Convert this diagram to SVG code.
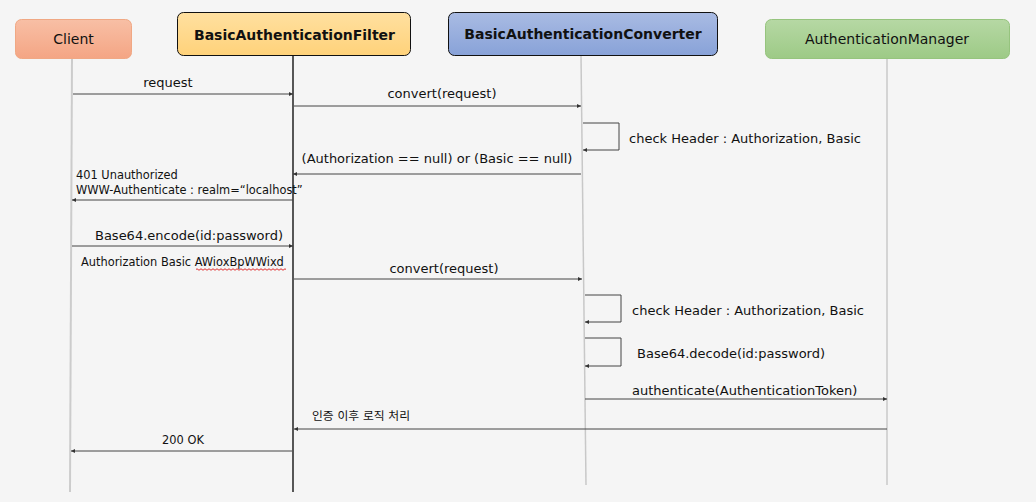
<svg xmlns="http://www.w3.org/2000/svg" width="1036" height="502" viewBox="0 0 1036 502">
<defs>
<linearGradient id="gClient" x1="0" y1="0" x2="0" y2="1"><stop offset="0" stop-color="#f8bfa5"/><stop offset="1" stop-color="#f4a584"/></linearGradient>
<linearGradient id="gFilter" x1="0" y1="0" x2="0" y2="1"><stop offset="0" stop-color="#ffe0a0"/><stop offset="1" stop-color="#ffd27a"/></linearGradient>
<linearGradient id="gConv" x1="0" y1="0" x2="0" y2="1"><stop offset="0" stop-color="#a9bbe3"/><stop offset="1" stop-color="#88a2d8"/></linearGradient>
<linearGradient id="gMgr" x1="0" y1="0" x2="0" y2="1"><stop offset="0" stop-color="#b6d8a4"/><stop offset="1" stop-color="#9dca86"/></linearGradient>
<marker id="ah" viewBox="0 0 6 6" refX="6" refY="3" markerWidth="4" markerHeight="4" orient="auto" markerUnits="userSpaceOnUse"><path d="M0,0 L6,3 L0,6 z" fill="#333"/></marker>
</defs>
<style>
.lbl{font-family:"DejaVu Sans",Verdana,sans-serif;font-size:13px;fill:#111}
.sm{font-family:"DejaVu Sans",Verdana,sans-serif;font-size:11.4px;fill:#111}
.kr{font-family:"DejaVu Sans","Noto Sans CJK KR",sans-serif;font-size:11.8px;fill:#111}
.msg{fill:none;stroke:#444;stroke-width:1;marker-end:url(#ah)}
.node{font-family:"DejaVu Sans",Verdana,sans-serif;font-size:14px;fill:#111}
.bold{font-weight:bold}
</style>
<rect width="1036" height="502" fill="#f5f5f5"/>
<g id="lifelines">
<line x1="72" y1="58" x2="70" y2="492" stroke="#cccccc" stroke-width="2"/>
<line x1="293" y1="55" x2="293" y2="492" stroke="#000" stroke-width="1.3"/>
<line x1="581" y1="55" x2="586" y2="485" stroke="#c8c8c8" stroke-width="1.5"/>
<line x1="887" y1="58" x2="887" y2="485" stroke="#c8c8c8" stroke-width="1.5"/>
</g>
<g id="client"><rect x="15.5" y="19.5" width="116" height="39" rx="6" fill="url(#gClient)" stroke="#f0a884"/><text class="node" x="73.5" y="44" text-anchor="middle">Client</text></g>
<g id="filter"><rect x="177.5" y="12.5" width="233" height="43" rx="6" fill="url(#gFilter)" stroke="#111"/><text class="node bold" x="294.5" y="40" text-anchor="middle">BasicAuthenticationFilter</text></g>
<g id="converter"><rect x="448.5" y="12.5" width="269" height="43" rx="6" fill="url(#gConv)" stroke="#111"/><text class="node bold" x="583" y="39" text-anchor="middle">BasicAuthenticationConverter</text></g>
<g id="manager"><rect x="765.5" y="19.5" width="244" height="39" rx="6" fill="url(#gMgr)" stroke="#96c47e"/><text class="node" x="887" y="44" text-anchor="middle">AuthenticationManager</text></g>
<g id="connectors">
<path class="msg" d="M73,94 H293"/>
<path class="msg" d="M294,106 H581"/>
<path class="msg" d="M583,123 H619 V150 H583"/>
<path class="msg" d="M581,174 H293"/>
<path class="msg" d="M293,200 H72"/>
<path class="msg" d="M72,246 H293"/>
<path class="msg" d="M294,279 H582"/>
<path class="msg" d="M585,295 H621 V322 H585"/>
<path class="msg" d="M585,338 H621 V366 H585"/>
<path class="msg" d="M585,399 H887"/>
<path class="msg" d="M887,429 H294"/>
<path class="msg" d="M292,451 H71"/>
</g>
<g id="labels">
<text class="lbl" x="168" y="87" text-anchor="middle">request</text>
<text class="lbl" x="442" y="98" text-anchor="middle">convert(request)</text>
<text class="lbl" x="629" y="143">check Header : Authorization, Basic</text>
<text class="lbl" x="437" y="163" text-anchor="middle">(Authorization == null) or (Basic == null)</text>
<text class="sm" x="76" y="179">401 Unauthorized</text>
<text class="sm" x="76" y="194">WWW-Authenticate : realm=“localhost”</text>
<text class="lbl" x="283" y="240" text-anchor="end">Base64.encode(id:password)</text>
<text class="sm" x="81" y="266">Authorization Basic AWioxBpWWixd</text>
<path d="M196,269.5 q1,-1.5 2,0 t2,0 t2,0 t2,0 t2,0 t2,0 t2,0 t2,0 t2,0 t2,0 t2,0 t2,0 t2,0 t2,0 t2,0 t2,0 t2,0 t2,0 t2,0 t2,0 t2,0 t2,0 t2,0 t2,0 t2,0 t2,0 t2,0 t2,0 t2,0 t2,0 t2,0 t2,0 t2,0 t2,0 t2,0 t2,0 t2,0 t2,0 t2,0 t2,0 t2,0 t2,0 t2,0 t2,0 t2,0" fill="none" stroke="#e03030" stroke-width="1"/>
<text class="lbl" x="444" y="273" text-anchor="middle">convert(request)</text>
<text class="lbl" x="632" y="315">check Header : Authorization, Basic</text>
<text class="lbl" x="637" y="358">Base64.decode(id:password)</text>
<text class="lbl" x="632" y="395">authenticate(AuthenticationToken)</text>
<text class="kr" x="312" y="420">인증 이후 로직 처리</text>
<text class="sm" x="183" y="444" text-anchor="middle">200 OK</text>
</g>
</svg>
